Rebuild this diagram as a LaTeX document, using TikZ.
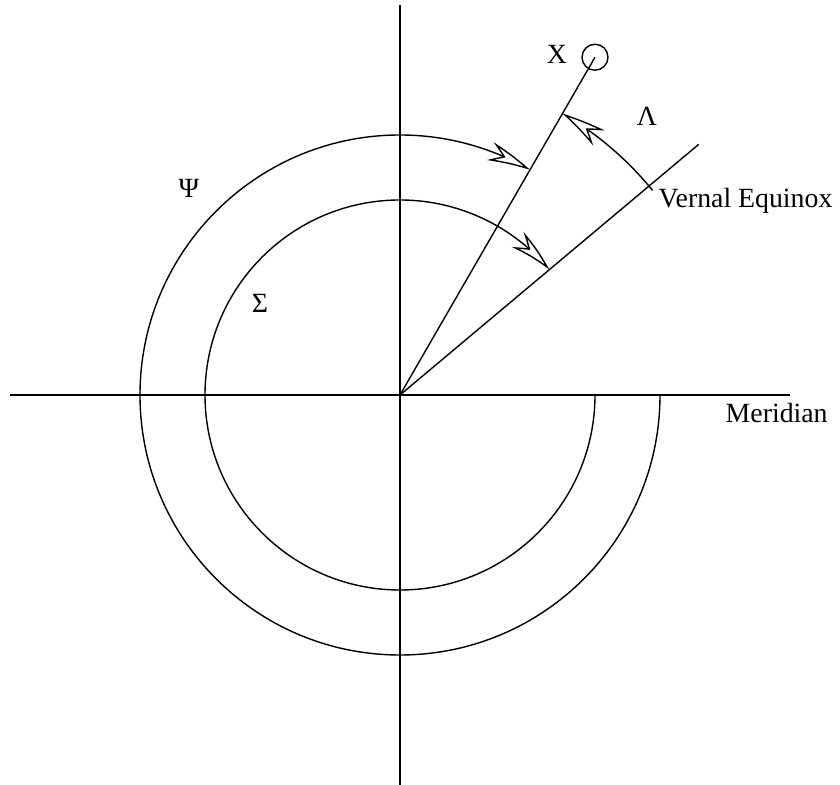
\documentclass[tikz,border=0pt]{standalone}
\usepackage{fontspec}
\setmainfont{Liberation Serif}
\usetikzlibrary{arrows.meta,bending}
\begin{document}
\begin{tikzpicture}[x=0.5pt,y=0.5pt,line width=0.7pt,
  lbl/.style={inner sep=0pt,font=\fontsize{13.9pt}{16pt}\selectfont},
  arr/.style={-{Stealth[open,length=22pt,width=9.5pt,inset=7pt,bend]}}]
\useasboundingbox (-400,-390) rectangle (440,395);
\coordinate (O) at (0,0);
\coordinate (W) at (-390,0);
\coordinate (E) at (390,0);
\coordinate (N) at (0,390);
\coordinate (S) at (0,-390);
\coordinate (Xend) at (60:390);
\coordinate (V) at (40:390);
\draw (W) -- (E);
\draw (N) -- (S);
\draw (O) -- (Xend);
\draw (O) -- (V);
\node[circle,draw,inner sep=0pt,minimum size=13pt] (Xc) at (Xend) {};
\draw[arr] (O) ++(0:260) arc[start angle=0,end angle=-300,radius=260];
\draw[arr] (O) ++(0:195) arc[start angle=0,end angle=-320,radius=195];
\draw[arr] (O) ++(39:325) arc[start angle=39,end angle=60,radius=325];
\node[lbl] (lX) at (157,341) {X};
\node[lbl] (lL) at (247,279) {Λ};
\node[lbl] (lP) at (-211,207) {Ψ};
\node[lbl] (lS) at (-140,92) {Σ};
\node[lbl,anchor=base west] (lV) at (258,187) {Vernal Equinox};
\node[lbl,anchor=base west] (lM) at (325,-28) {Meridian};
\end{tikzpicture}
\end{document}
